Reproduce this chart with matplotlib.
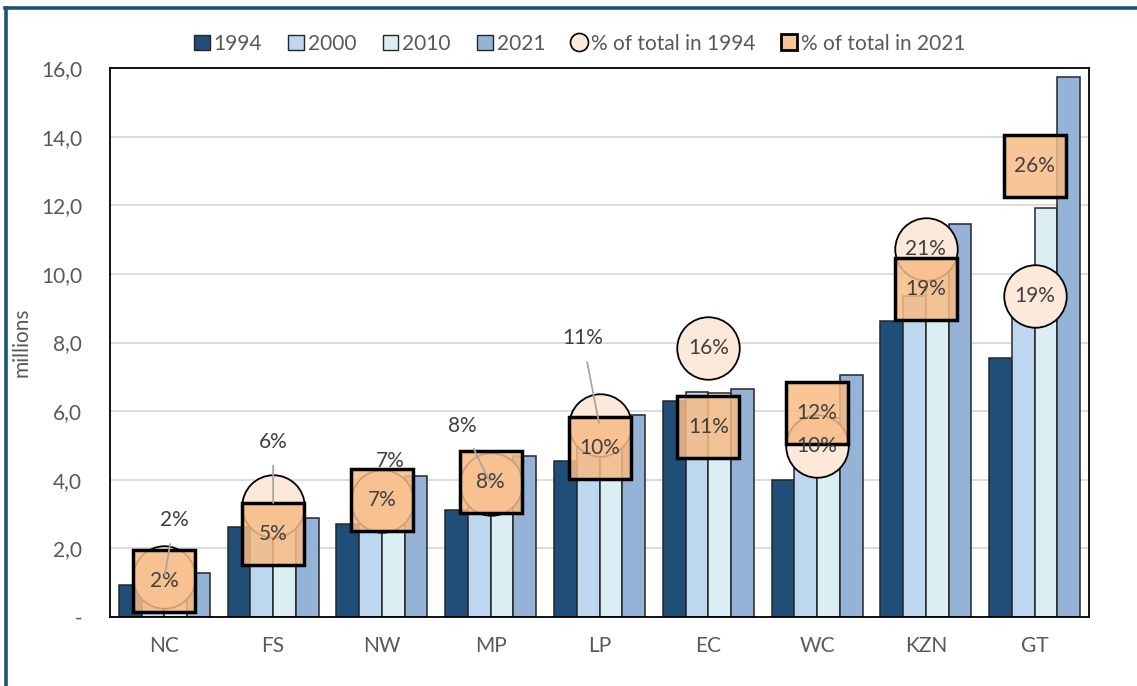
import matplotlib.pyplot as plt
from matplotlib.patches import Patch
from matplotlib.lines import Line2D
import numpy as np

provinces = ['NC', 'FS', 'NW', 'MP', 'LP', 'EC', 'WC', 'KZN', 'GT']
years = ['1994', '2000', '2010', '2021']

# population, millions
pop_1994 = [0.93, 2.62, 2.71, 3.12, 4.55, 6.30, 4.00, 8.63, 7.55]
pop_2000 = [0.98, 2.70, 3.30, 3.45, 5.00, 6.56, 4.50, 9.36, 8.80]
pop_2010 = [1.08, 2.78, 3.55, 3.85, 5.30, 6.52, 5.80, 10.30, 11.93]
pop_2021 = [1.28, 2.89, 4.10, 4.69, 5.90, 6.65, 7.05, 11.45, 15.75]

# share of total population, percent
share_1994 = [2.3, 6.45, 6.7, 7.7, 11.1, 15.6, 9.9, 21.3, 18.6]
share_2021 = [2.1, 4.8, 6.8, 7.8, 9.8, 11.0, 11.8, 19.0, 26.1]

# label offsets (pixels) for the 1994 labels that sit outside the circle
offsets_1994 = {0: (10, -57), 1: (0, -64), 2: (8, -40), 3: (-28, -58), 4: (-17, -87)}
no_leader = [2]

bar_colors = ['#1F4E79', '#BDD7EE', '#DAEEF3', '#95B3D7']
circle_face = '#FDE9D9'
square_face = '#F7BB85'
txt = '#595959'
fs = 15

plt.rcParams['font.family'] = ['Lato', 'DejaVu Sans']

fig = plt.figure(figsize=(11.37, 6.86), dpi=100)
ax = fig.add_axes([110/1137, 69/686, 979/1137, 549/686])

x = np.arange(len(provinces))
w = 0.209
series = [pop_1994, pop_2000, pop_2010, pop_2021]
for i, vals in enumerate(series):
    ax.bar(x + (i - 1.5)*w, vals, w, color=bar_colors[i], edgecolor='#262626',
           linewidth=1.1, zorder=2)

ax.set_xlim(-0.5, 8.5)
ax.set_ylim(0, 16)
ax.set_yticks(np.arange(0, 17, 2))
ax.set_yticklabels(['-'] + ['%d,0' % v for v in range(2, 17, 2)])
ax.set_xticks(x)
ax.set_xticklabels(provinces)
ax.tick_params(axis='both', length=0, labelsize=fs, labelcolor=txt)
ax.tick_params(axis='y', pad=20)
ax.tick_params(axis='x', pad=14)
ax.grid(axis='y', color='#D9D9D9', linewidth=1.3, zorder=0)
ax.set_axisbelow(True)
for s in ax.spines.values():
    s.set_color('black')
    s.set_linewidth(1.3)
ax.set_ylabel('millions', fontsize=fs, color=txt)
ax.yaxis.set_label_coords(-0.08, 0.5)

# secondary scale for the share markers
ax2 = ax.twinx()
ax2.set_ylim(0, 31.8)
ax2.set_axis_off()

ax2.plot(x, share_1994, 'o', markersize=45, markerfacecolor=circle_face,
         markeredgecolor='black', markeredgewidth=1.3, zorder=3)
ax2.plot(x, share_2021, 's', markersize=44, markerfacecolor=square_face,
         markeredgecolor='black', markeredgewidth=2.3, alpha=0.85, zorder=4)
# redraw square edges at full opacity
ax2.plot(x, share_2021, 's', markersize=44, markerfacecolor='none',
         markeredgecolor='black', markeredgewidth=2.4, zorder=5)

for i, v in enumerate(share_2021):
    ax2.text(x[i], v, '%.0f%%' % v, ha='center', va='center', fontsize=fs,
             color='#404040', zorder=7)

for i, v in enumerate(share_1994):
    lab = '%.0f%%' % v
    if i in offsets_1994:
        dx, dy = offsets_1994[i]
        arrow = None
        if i not in no_leader:
            arrow = dict(arrowstyle='-', color='#A6A6A6', lw=1.3,
                         shrinkA=8, shrinkB=2)
        ax2.annotate(lab, xy=(x[i], v), xytext=(dx*0.72, -dy*0.72),
                     textcoords='offset points', ha='center', va='center',
                     fontsize=fs, color='#404040', zorder=7,
                     arrowprops=arrow)
    else:
        ax2.text(x[i], v, lab, ha='center', va='center', fontsize=fs,
                 color='#404040', zorder=7)

# legend
handles = [Patch(facecolor=c, edgecolor='#262626', linewidth=1) for c in bar_colors]
handles.append(Line2D([], [], marker='o', linestyle='none', markersize=13,
                      markerfacecolor=circle_face, markeredgecolor='black',
                      markeredgewidth=1.2))
handles.append(Line2D([], [], marker='s', linestyle='none', markersize=12,
                      markerfacecolor='#F8C597', markeredgecolor='black',
                      markeredgewidth=2))
labels = years + ['% of total in 1994', '% of total in 2021']
leg = fig.legend(handles, labels, loc='center', bbox_to_anchor=(0.51, 0.936),
                 ncol=6, frameon=False, fontsize=fs, handlelength=0.75,
                 handleheight=0.75, handletextpad=0.2, columnspacing=1.25)
for t in leg.get_texts():
    t.set_color(txt)

# dark frame lines at the top and left of the picture
frame = '#1E5670'
fig.add_artist(Line2D([5/1137, 1], [1 - 8/686, 1 - 8/686], color=frame,
                      linewidth=2.6, transform=fig.transFigure))
fig.add_artist(Line2D([5.5/1137, 5.5/1137], [0, 1 - 8/686], color=frame,
                      linewidth=2.6, transform=fig.transFigure))

fig.savefig('out.png', dpi=100)
